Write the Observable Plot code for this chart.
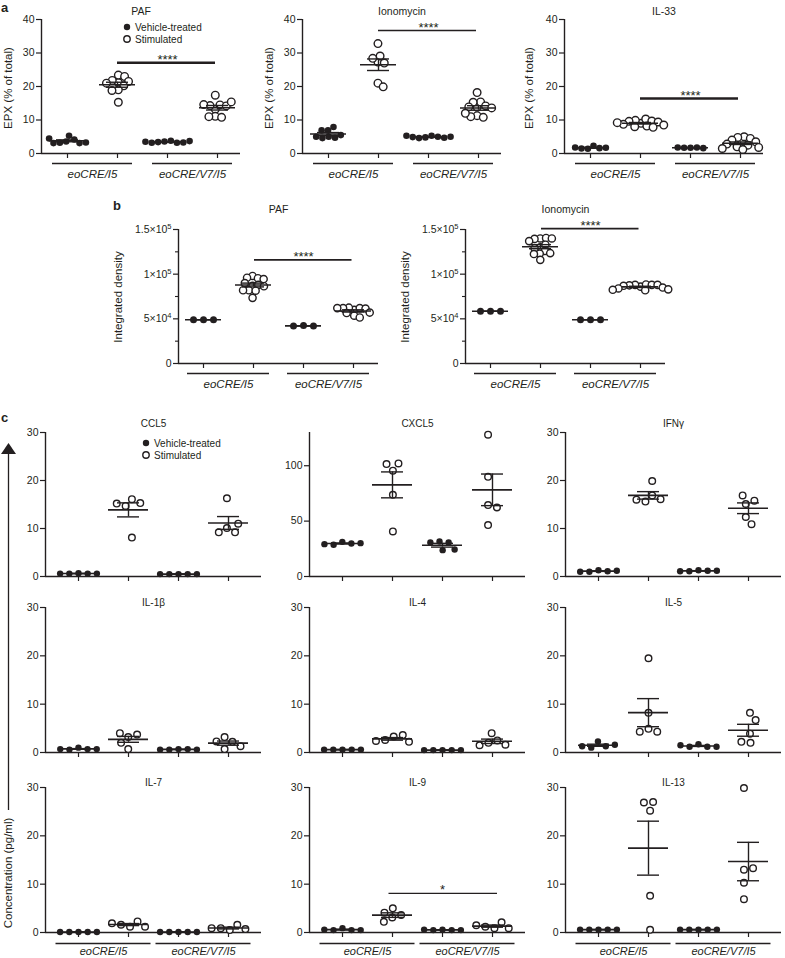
<!DOCTYPE html>
<html><head><meta charset="utf-8">
<script src="https://cdn.jsdelivr.net/npm/d3@7"></script>
<script src="https://cdn.jsdelivr.net/npm/@observablehq/plot@0.6"></script>
<style>
body{margin:0;background:#fff;}
#root{position:relative;width:785px;height:958px;font-family:"Liberation Sans",Arial,Helvetica,sans-serif;color:#231f20;overflow:hidden;background:#fff;}
.ylab{position:absolute;transform:translate(-50%,-50%) rotate(-90deg);white-space:nowrap;font-size:11.5px;}
.panel{position:absolute;font-weight:bold;font-size:13px;line-height:13px;}
</style></head><body><div id="root"></div>
<script>
// ---------- data ----------
const genotypes = ["eoCRE/I5", "eoCRE/V7/I5"];
const treatments = ["Vehicle-treated", "Stimulated"];
// group order: I5 vehicle, I5 stimulated, V7/I5 vehicle, V7/I5 stimulated

// panel a: EPX (% of total)
const titlesA = ["PAF", "Ionomycin", "IL-33"];
const ticksA = [0, 10, 20, 30, 40];
const epxPAF = [
  [5.3, 4.2, 3.6, 3.2, 3.1, 3.1, 3.3, 4.5],
  [21.2, 23.4, 23.0, 21.8, 21.5, 20.2, 19.0, 18.8, 15.3, 21.0],
  [3.6, 3.8, 3.4, 3.2, 3.2, 3.3, 3.5, 3.7],
  [13.2, 17.4, 14.5, 14.3, 14.2, 14.6, 15.4, 11.1, 10.8, 11.0]
];
const epxIono = [
  [6.9, 5.0, 4.6, 7.9, 4.7, 5.0, 6.9, 5.5],
  [27.3, 32.8, 29.1, 28.4, 27.0, 21.0, 19.9],
  [5.3, 5.0, 4.8, 4.6, 4.7, 4.9, 5.0, 5.3],
  [13.8, 18.2, 15.4, 15.3, 14.2, 13.9, 13.6, 11.3, 10.8, 11.0, 12.0]
];
const epxIL33 = [
  [2.3, 1.6, 1.4, 1.5, 1.7, 1.8],
  [9.0, 10.3, 9.9, 9.7, 9.6, 9.4, 8.7, 8.5, 8.2, 8.0, 7.8, 9.2],
  [1.7, 1.8, 1.7, 1.6, 1.8],
  [3.2, 5.0, 4.8, 4.5, 4.0, 3.5, 2.8, 2.5, 2.0, 1.8, 1.5, 1.2]
];
const sigA = [{label: "****", y: 27.1}, {label: "****", y: 36.7}, {label: "****", y: 16.4}];

// panel b: integrated density
const titlesB = ["PAF", "Ionomycin"];
const ticksB = [0, 50000, 100000, 150000];
const minorB = [25000, 75000, 125000];
const densPAF = [
  [49000, 49000, 49000],
  [87000, 98000, 95500, 96000, 94500, 90000, 88000, 86500, 82000, 82000, 81500, 73500],
  [42500, 42000, 42000],
  [60000, 62000, 62500, 62000, 61500, 62000, 56500, 53500, 51500, 57000]
];
const densIono = [
  [58500, 58500, 58500],
  [130000, 140000, 140500, 139500, 140000, 137000, 133000, 129000, 126000, 123000, 122500, 123500, 116000],
  [49000, 49000, 49000],
  [86000, 88500, 88000, 88000, 87500, 88000, 87000, 85000, 84000, 83000, 82000, 82500]
];
const sigB = [{label: "****", y: 116000}, {label: "****", y: 151000}];

// panel c: concentration (pg/ml)
const titlesC = ["CCL5", "CXCL5", "IFNγ", "IL-1β", "IL-4", "IL-5", "IL-7", "IL-9", "IL-13"];
const ticksC = [0, 10, 20, 30];
const ticksCXCL5 = [0, 50, 100];
const ccl5 = [[0.7, 0.6, 0.6, 0.6, 0.6], [8.1, 16.1, 15.3, 14.7, 15.2], [0.5, 0.5, 0.5, 0.5, 0.5], [16.3, 10.1, 9.2, 9.2, 11.0]];
const cxcl5 = [[31.3, 29.8, 28.6, 29.2, 30.1], [95.5, 102.1, 101.5, 73.8, 40.7], [31.6, 30.7, 30.7, 23.8, 24.4], [90, 128, 64.5, 62.3, 46.4]];
const ifng = [[1.3, 1.1, 1.0, 1.0, 1.2], [16.9, 19.9, 16.1, 15.6, 16.0], [1.3, 1.2, 1.1, 1.1, 1.2], [15.1, 15.8, 16.9, 12.4, 10.9]];
const il1b = [[1.0, 0.7, 0.6, 0.7, 0.7], [3.2, 3.7, 4.0, 2.0, 0.7], [0.7, 0.7, 0.6, 0.6, 0.6], [3.2, 2.2, 2.3, 1.3, 0.7]];
const il4 = [[0.6, 0.6, 0.6, 0.6, 0.6], [3.3, 3.6, 2.6, 2.2, 2.4], [0.5, 0.5, 0.5, 0.5, 0.5], [4.0, 2.5, 2.0, 1.5, 1.6]];
const il5 = [[2.3, 1.3, 1.0, 1.3, 1.6], [8.2, 19.5, 4.9, 4.3, 4.3], [1.7, 1.2, 1.2, 1.2, 1.5], [3.9, 8.2, 6.7, 2.0, 2.2]];
const il7 = [[0.1, 0.1, 0.1, 0.1, 0.1], [1.2, 2.3, 1.6, 1.2, 1.9], [0.1, 0.1, 0.1, 0.1, 0.1], [0.5, 1.6, 0.9, 0.7, 0.9]];
const il9 = [[0.9, 0.5, 0.5, 0.5, 0.6], [3.1, 3.6, 5.0, 4.1, 2.2], [0.6, 0.5, 0.5, 0.5, 0.6], [0.9, 2.1, 1.2, 0.9, 1.5]];
const il13 = [[0.6, 0.6, 0.6, 0.6, 0.6], [25.2, 27.0, 26.9, 7.6, 0.55], [0.6, 0.6, 0.6, 0.6, 0.6], [10.3, 29.9, 13.0, 13.3, 6.9]];
const sigIL9 = {label: "*", y: 8.1};

// ---------- drawing ----------
const ink = "#231f20";
const FONT = '"Liberation Sans", Arial, Helvetica, sans-serif';
const root = document.getElementById("root");
const UNIT = 50;

function dodge(vals, rc, pyPer) {
  const placed = [], d2 = 4 * rc * rc;
  const xs = vals.map(v => {
    const y = v * pyPer;
    const near = placed.filter(p => Math.abs(p.y - y) < 2 * rc);
    const c = [0];
    near.forEach(p => { const dx = Math.sqrt(d2 - (p.y - y) ** 2); c.push(p.x + dx, p.x - dx); });
    c.sort((a, b) => (Math.abs(a) - Math.abs(b)) || (b - a));
    const x = c.find(cx => near.every(p => (cx - p.x) ** 2 + (p.y - y) ** 2 >= d2 - 1e-6));
    placed.push({x, y});
    return x;
  });
  const mid = (d3.max(xs) + d3.min(xs)) / 2;
  return xs.map(x => x - mid);
}

const sci = d => {
  if (d === 0) return "0";
  const e = Math.floor(Math.log10(d));
  const m = +(d / 10 ** e).toFixed(2);
  return `${m}×10^${e}`;
};

function subplot(o) {
  const ML = 70, MR = 20, MT = 40, MB = 45;
  const fw = (o.xd[1] - o.xd[0]) * UNIT, fh = o.yBot - o.yTop;
  const pyPer = fh / (o.yd[1] - o.yd[0]);
  const pts = [];
  o.values.forEach((arr, gi) => {
    const offs = dodge(arr, gi % 2 ? o.rcStim : o.rcVeh, pyPer);
    arr.forEach((v, i) => pts.push({x: gi + 1 + offs[i] / UNIT, v, open: gi % 2 === 1}));
  });
  const stats = o.values.map((arr, gi) => {
    const m = d3.mean(arr), s = d3.deviation(arr) / Math.sqrt(arr.length);
    return {x: gi + 1, m, lo: m - s, hi: m + s};
  });
  const marks = [
    Plot.axisY({ticks: o.yticks, tickSize: 5, tickPadding: 2, tickFormat: o.tickFormat || (d => String(d)), fontSize: o.tickFont, label: null, strokeWidth: 1.2}),
    Plot.axisX({ticks: [1, 2, 3, 4], tickSize: 5, tickFormat: () => "", label: null, strokeWidth: 1.2}),
    Plot.ruleY([0], {stroke: ink, strokeWidth: 1.4}),
    Plot.ruleX([o.xd[0]], {stroke: ink, strokeWidth: 1.4}),
    Plot.dot(pts.filter(d => !d.open), {x: "x", y: "v", r: o.rFill, fill: ink, stroke: "none"}),
    Plot.dot(pts.filter(d => d.open), {x: "x", y: "v", r: o.rOpen, fill: "white", stroke: ink, strokeWidth: 1.4}),
    Plot.ruleY(stats, {y: "m", x1: d => d.x - o.meanHalf, x2: d => d.x + o.meanHalf, stroke: ink, strokeWidth: 1.6}),
    Plot.ruleX(stats, {x: "x", y1: "lo", y2: "hi", stroke: ink, strokeWidth: 1.4}),
    Plot.ruleY(stats, {y: "lo", x1: d => d.x - 0.22, x2: d => d.x + 0.22, stroke: ink, strokeWidth: 1.4}),
    Plot.ruleY(stats, {y: "hi", x1: d => d.x - 0.22, x2: d => d.x + 0.22, stroke: ink, strokeWidth: 1.4}),
    Plot.text([o.title], {frameAnchor: "top", text: d => d, dy: o.titleDy, fontSize: o.titleFont, lineAnchor: "middle", fill: ink})
  ];
  if (o.minor) marks.push(Plot.axisY({ticks: o.minor, tickSize: 3, tickFormat: () => "", label: null, strokeWidth: 1.1}));
  if (o.under) marks.push(
    Plot.ruleY(genotypes, {y: () => 0, x1: (d, i) => 1.5 + 2 * i - o.under, x2: (d, i) => 1.5 + 2 * i + o.under, dy: o.underDy, stroke: ink, strokeWidth: 1.3}),
    Plot.text(genotypes, {x: (d, i) => 1.5 + 2 * i, y: () => 0, text: d => d, dy: o.labelDy, fontStyle: "italic", fontSize: o.labelFont || 11.5, fill: ink, lineAnchor: "middle"})
  );
  if (o.sig) marks.push(
    Plot.ruleY([o.sig], {y: "y", x1: () => o.sigX[0], x2: () => o.sigX[1], stroke: ink, strokeWidth: o.sigW}),
    Plot.text([o.sig], {x: () => 3, y: "y", text: "label", dy: 1, lineAnchor: "bottom", fontSize: 13, fill: ink})
  );
  const svg = Plot.plot({
    width: ML + fw + MR, height: MT + fh + MB,
    marginLeft: ML, marginRight: MR, marginTop: MT, marginBottom: MB,
    x: {domain: o.xd}, y: {domain: o.yd},
    style: {background: "transparent", overflow: "visible", fontFamily: FONT, color: ink, maxWidth: "none", fontSize: "10px"},
    marks
  });
  svg.querySelectorAll("text").forEach(t => {
    if (t.textContent.includes("^") && t.children.length === 0) {
      const [b, e] = t.textContent.split("^");
      t.textContent = b;
      const ts = document.createElementNS("http://www.w3.org/2000/svg", "tspan");
      ts.setAttribute("dy", "-0.5em");
      ts.setAttribute("font-size", "7.5");
      ts.textContent = e;
      t.appendChild(ts);
    }
  });
  svg.style.position = "absolute";
  svg.style.left = (o.ax - ML) + "px";
  svg.style.top = (o.yTop - MT) + "px";
  root.appendChild(svg);
}

// panel a
const aVals = [epxPAF, epxIono, epxIL33];
const aAx = [41, 302, 564];
const aSigW = [2.6, 1.6, 2.6];
aVals.forEach((vals, i) => subplot({
  ax: aAx[i], yTop: 19, yBot: 153, xd: [0.48, 4.46], yd: [0, 40], yticks: ticksA,
  values: vals, title: titlesA[i], titleDy: -8, titleFont: 10.5, tickFont: 10.5,
  rcVeh: 3.2, rcStim: 3.2, rFill: 3.3, rOpen: 3.8, meanHalf: 0.36,
  under: 0.8, underDy: 10, labelDy: 21,
  sig: sigA[i], sigX: [2, 3.96], sigW: aSigW[i]
}));

// panel b
const bVals = [densPAF, densIono];
const bAx = [178, 465];
bVals.forEach((vals, i) => subplot({
  ax: bAx[i], yTop: 229, yBot: 363, xd: [0.5, 4.5], yd: [0, 150000], yticks: ticksB, minor: minorB,
  tickFormat: sci, values: vals, title: titlesB[i], titleDy: -20, titleFont: 10.5, tickFont: 10.5,
  rcVeh: 5, rcStim: 2.9, rFill: 3.5, rOpen: 3.6, meanHalf: 0.36,
  under: 0.82, underDy: 10, labelDy: 21,
  sig: sigB[i], sigX: [2.02, 3.97], sigW: 1.7
}));

// panel c
const cVals = [ccl5, cxcl5, ifng, il1b, il4, il5, il7, il9, il13];
const cAx = [45, 309, 565];
const cRows = [[432, 576], [607, 752], [787, 932]];
cVals.forEach((vals, i) => {
  const col = i % 3, row = Math.floor(i / 3);
  const isCx = i === 1;
  subplot({
    ax: cAx[col], yTop: cRows[row][0], yBot: cRows[row][1], xd: [0.34, 4.66],
    yd: isCx ? [0, 130] : [0, 30], yticks: isCx ? ticksCXCL5 : ticksC,
    values: vals, title: titlesC[i], titleDy: row === 0 ? -9 : -5, titleFont: 10, tickFont: 10.5,
    rcVeh: 4.6, rcStim: 4.6, rFill: 3.2, rOpen: 3.3, meanHalf: 0.4,
    under: row === 2 ? 0.95 : 0, underDy: 11, labelDy: 19, labelFont: 11,
    sig: i === 7 ? sigIL9 : null, sigX: [1.93, 4.1], sigW: 1.3
  });
});

// ---------- annotations ----------
function addDiv(cls, text, x, y, extra) {
  const d = document.createElement("div");
  d.className = cls; d.textContent = text;
  d.style.left = x + "px"; d.style.top = y + "px";
  if (extra) Object.assign(d.style, extra);
  root.appendChild(d);
}
addDiv("panel", "a", 1, 1);
addDiv("panel", "b", 113, 199);
addDiv("panel", "c", 1, 411);
[8, 269, 529].forEach(x => addDiv("ylab", "EPX (% of total)", x, 88));
[118, 405].forEach(x => addDiv("ylab", "Integrated density", x, 297));
addDiv("ylab", "Concentration (pg/ml)", 8, 873);

function legend(x, y) {
  const ns = "http://www.w3.org/2000/svg";
  const s = document.createElementNS(ns, "svg");
  s.setAttribute("width", 110); s.setAttribute("height", 26);
  Object.assign(s.style, {position: "absolute", left: (x - 6) + "px", top: (y - 6) + "px", overflow: "visible"});
  treatments.forEach((t, i) => {
    const c = document.createElementNS(ns, "circle");
    c.setAttribute("cx", 6); c.setAttribute("cy", 6 + 12 * i); c.setAttribute("r", 3.2);
    c.setAttribute("fill", i ? "white" : ink);
    if (i) { c.setAttribute("stroke", ink); c.setAttribute("stroke-width", 1.4); }
    s.appendChild(c);
    const tx = document.createElementNS(ns, "text");
    tx.setAttribute("x", 14); tx.setAttribute("y", 6 + 12 * i); tx.setAttribute("dy", "0.35em");
    tx.setAttribute("font-size", 10); tx.setAttribute("fill", ink);
    tx.setAttribute("font-family", FONT);
    tx.textContent = t;
    s.appendChild(tx);
  });
  root.appendChild(s);
}
legend(127, 27);
legend(146, 443);

// arrow along the concentration axis
(function () {
  const ns = "http://www.w3.org/2000/svg";
  const s = document.createElementNS(ns, "svg");
  s.setAttribute("width", 20); s.setAttribute("height", 380);
  Object.assign(s.style, {position: "absolute", left: "0px", top: "440px"});
  const p = document.createElementNS(ns, "polygon");
  p.setAttribute("points", "8.5,3 1,14 16,14"); p.setAttribute("fill", ink);
  s.appendChild(p);
  const l = document.createElementNS(ns, "line");
  l.setAttribute("x1", 8.5); l.setAttribute("x2", 8.5); l.setAttribute("y1", 13); l.setAttribute("y2", 370);
  l.setAttribute("stroke", ink); l.setAttribute("stroke-width", 1.3);
  s.appendChild(l);
  root.appendChild(s);
})();
</script></body></html>
